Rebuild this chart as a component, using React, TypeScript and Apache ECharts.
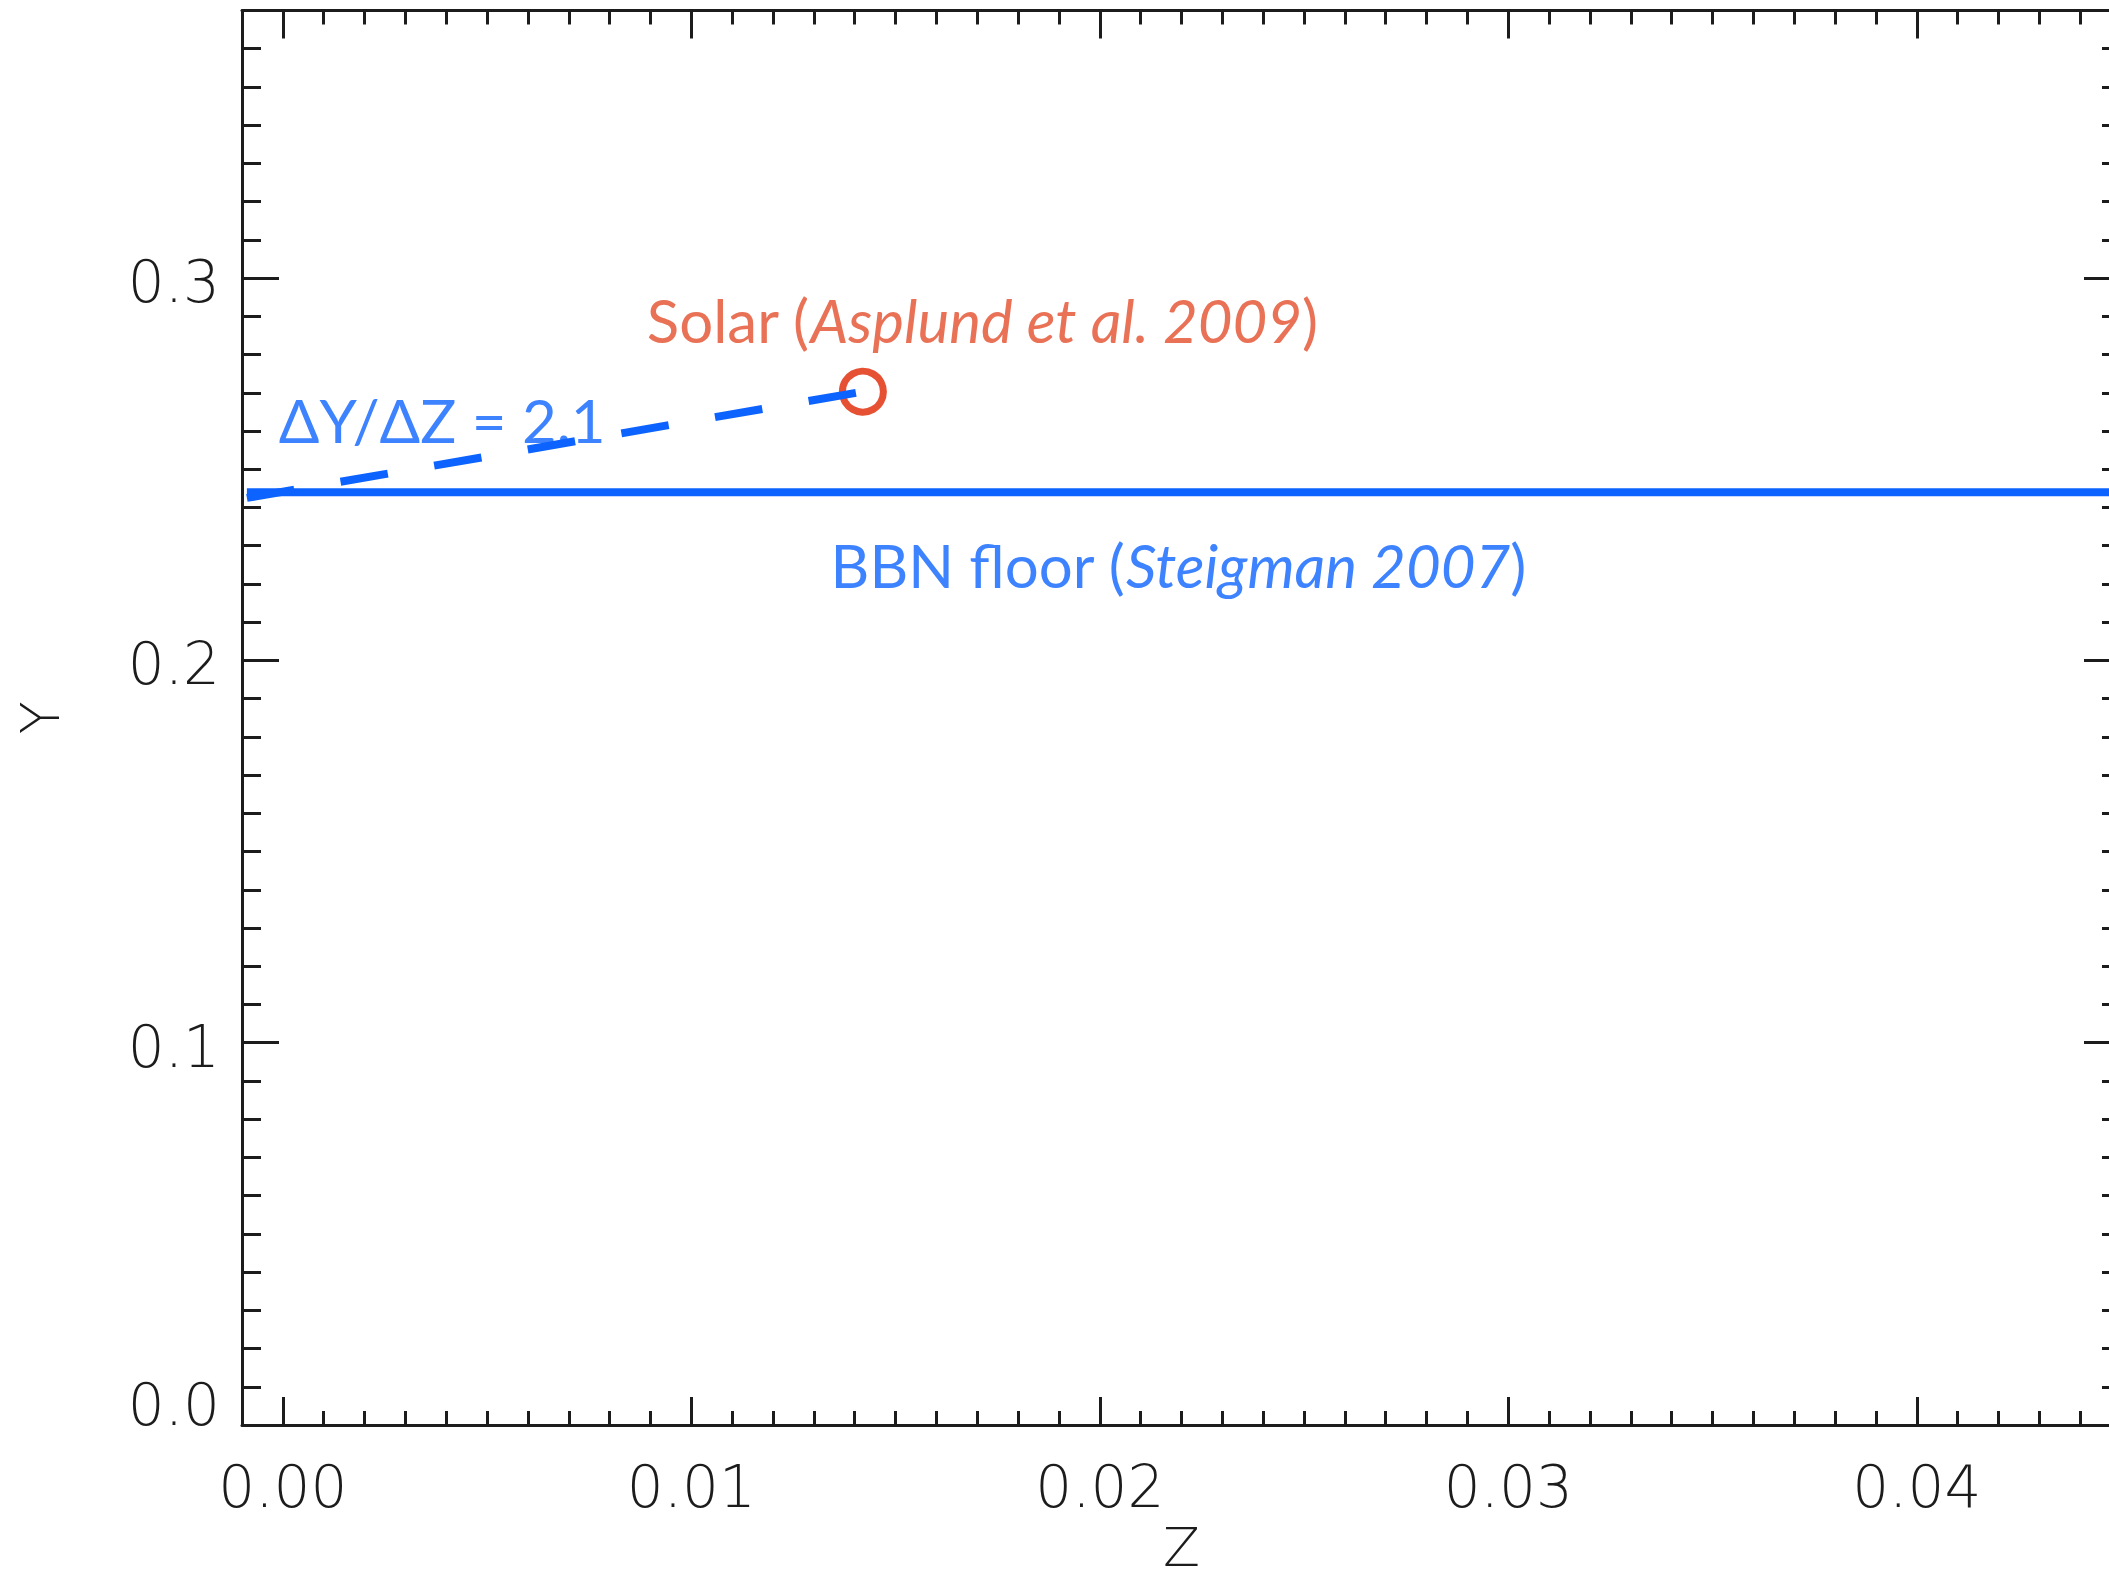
import { useEffect, useRef } from "react";
import * as echarts from "echarts";

// Axis ranges and ticks
const X_MIN = -0.001;
const X_MAX = 0.045;
const Y_MIN = 0;
const Y_MAX = 0.37;
const X_MAJOR_TICKS = [0, 0.01, 0.02, 0.03, 0.04];
const Y_MAJOR_TICKS = [0, 0.1, 0.2, 0.3];
const X_MINOR_STEP = 0.001;
const Y_MINOR_STEP = 0.01;

// Primordial helium floor from Big Bang nucleosynthesis
const BBN_FLOOR = [
  [-0.00088, 0.244],
  [0.045, 0.244],
];
// Helium-to-metal enrichment line, ending at the protosolar value
const ENRICHMENT_LINE = [
  [-0.00088, 0.2425],
  [0.0142, 0.2703],
];
// Protosolar composition (Asplund et al. 2009)
const SOLAR_POINT = [[0.0142, 0.2703]];

// Annotation texts and their anchor points (left edge, vertical middle)
const SOLAR_LABEL = { at: [0.00891, 0.289], text: "{n|Solar (}{i|Asplund et al. 2009}{n|)}" };
const SLOPE_LABEL = { at: [-0.0001, 0.2629], text: "{n|ΔY/ΔZ = 2.1}" };
const BBN_LABEL = { at: [0.01341, 0.225], text: "{n|BBN floor (}{i|Steigman 2007}{n|)}" };

const BLUE = "#0c63ff";
const SOLAR_TEXT = "#e44d2c";
const SOLAR_RING = "#e02400";
const INK = "#1c1c1c";

const AXIS_FONT = "'DejaVu Sans', sans-serif";
const NOTE_FONT = "Lato, 'Noto Sans', sans-serif";

const GRID = { left: 242, top: 10.5, width: 1879, height: 1414.5, outerBoundsMode: "none", containLabel: false };

function noteRich(color: string) {
  return {
    n: { fontFamily: NOTE_FONT, fontSize: 60, color },
    i: { fontFamily: NOTE_FONT, fontSize: 60, color, fontStyle: "italic" },
  };
}

function noteSeries(name: string, note: { at: number[]; text: string }, color: string) {
  return {
    name,
    type: "scatter",
    xAxisIndex: 0,
    yAxisIndex: 0,
    symbolSize: 0,
    silent: true,
    z: 6,
    data: [note.at],
    label: {
      show: true,
      position: "right",
      distance: 0,
      align: "left",
      verticalAlign: "middle",
      formatter: () => note.text,
      rich: noteRich(color),
    },
  };
}

export default function App() {
  const ref = useRef<HTMLDivElement>(null);

  useEffect(() => {
    if (!ref.current) return;
    const chart = echarts.init(ref.current, null, { renderer: "svg" });

    const line = { show: true, onZero: false, lineStyle: { color: INK, width: 3 } };
    const tickStyle = { color: INK, width: 3 };
    const labelStyle = { color: INK, fontFamily: AXIS_FONT, fontSize: 58, fontWeight: 200 };

    const majorX = (position: string, withLabels: boolean) => ({
      type: "value",
      gridIndex: 0,
      position,
      min: X_MIN,
      max: X_MAX,
      axisLine: line,
      axisTick: { show: true, inside: true, length: 28, customValues: X_MAJOR_TICKS, lineStyle: tickStyle },
      axisLabel: withLabels
        ? { show: true, customValues: X_MAJOR_TICKS, formatter: (v: number) => v.toFixed(2), margin: 33, ...labelStyle }
        : { show: false },
      splitLine: { show: false },
    });
    const minorX = (position: string) => ({
      type: "value",
      gridIndex: 1,
      position,
      min: X_MIN,
      max: X_MAX,
      interval: X_MINOR_STEP,
      axisLine: { show: false, onZero: false },
      axisTick: { show: true, inside: true, length: 14, lineStyle: tickStyle },
      axisLabel: { show: false },
      splitLine: { show: false },
    });
    const majorY = (position: string, withLabels: boolean) => ({
      type: "value",
      gridIndex: 0,
      position,
      min: Y_MIN,
      max: Y_MAX,
      axisLine: line,
      axisTick: { show: true, inside: true, length: 37, customValues: Y_MAJOR_TICKS, lineStyle: tickStyle },
      axisLabel: withLabels
        ? {
            show: true,
            customValues: Y_MAJOR_TICKS,
            margin: 22,
            padding: [8, 0, 0, 0],
            ...labelStyle,
            formatter: (v: number) => (v === 0 ? "{z|0.0}" : v.toFixed(1)),
            rich: { z: { ...labelStyle, padding: [0, 0, 48, 0] } },
          }
        : { show: false },
      splitLine: { show: false },
    });
    const minorY = (position: string) => ({
      type: "value",
      gridIndex: 1,
      position,
      min: Y_MIN,
      max: Y_MAX,
      interval: Y_MINOR_STEP,
      axisLine: { show: false, onZero: false },
      axisTick: { show: true, inside: true, length: 19, lineStyle: tickStyle },
      axisLabel: { show: false },
      splitLine: { show: false },
    });

    const nameStyle = { color: INK, fontFamily: AXIS_FONT, fontSize: 54, lineHeight: 54, fontWeight: 200 };

    chart.setOption({
      animation: false,
      backgroundColor: "#ffffff",
      grid: [{ ...GRID }, { ...GRID }],
      xAxis: [
        { ...majorX("bottom", true), name: "Z", nameLocation: "middle", nameGap: 90, nameTextStyle: nameStyle },
        majorX("top", false),
        minorX("bottom"),
        minorX("top"),
      ],
      yAxis: [
        { ...majorY("left", true), name: "Y", nameLocation: "middle", nameGap: 175, nameTextStyle: nameStyle },
        majorY("right", false),
        minorY("left"),
        minorY("right"),
      ],
      series: [
        {
          name: "BBN floor",
          type: "line",
          xAxisIndex: 0,
          yAxisIndex: 0,
          data: BBN_FLOOR,
          symbol: "none",
          z: 2,
          lineStyle: { color: BLUE, width: 8, cap: "butt" },
        },
        {
          name: "Solar",
          type: "scatter",
          xAxisIndex: 0,
          yAxisIndex: 0,
          data: SOLAR_POINT,
          symbol: "circle",
          symbolSize: 41,
          z: 3,
          itemStyle: { color: "rgba(0,0,0,0)", borderColor: SOLAR_RING, borderWidth: 7 },
        },
        {
          name: "ΔY/ΔZ",
          type: "line",
          xAxisIndex: 0,
          yAxisIndex: 0,
          data: ENRICHMENT_LINE,
          symbol: "none",
          z: 4,
          lineStyle: { color: BLUE, width: 8, type: [48, 47], cap: "butt" },
        },
        noteSeries("solar-note", SOLAR_LABEL, SOLAR_TEXT),
        noteSeries("slope-note", SLOPE_LABEL, BLUE),
        noteSeries("bbn-note", BBN_LABEL, BLUE),
      ],
    });

    return () => chart.dispose();
  }, []);

  return (
    <div
      ref={ref}
      style={{ position: "fixed", left: 0, top: 0, width: 2109, height: 1579, background: "#ffffff" }}
    />
  );
}
